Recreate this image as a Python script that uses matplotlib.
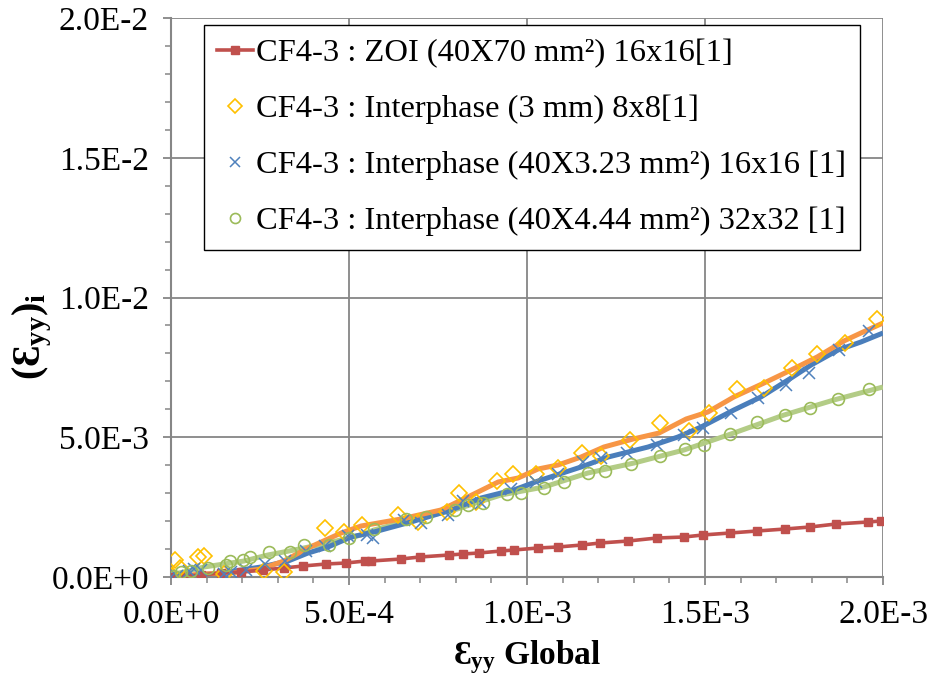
import numpy as np
import matplotlib
matplotlib.use("Agg")
import matplotlib.pyplot as plt
from matplotlib.ticker import MultipleLocator, FuncFormatter

plt.rcParams['font.family'] = ['Liberation Serif', 'DejaVu Serif']
plt.rcParams['mathtext.fontset'] = 'custom'
plt.rcParams['mathtext.rm'] = 'Liberation Serif'
plt.rcParams['mathtext.bf'] = 'Liberation Serif:bold'
plt.rcParams['mathtext.it'] = 'Liberation Serif:italic'

SCALE = 1e-3  # values below are in units of 1e-3

# CF4-3 : ZOI (40X70 mm²) 16x16[1]
zoi_x = [0.006, 0.042, 0.084, 0.140, 0.197, 0.258, 0.317, 0.371, 0.435, 0.492, 0.545, 0.562,
         0.646, 0.699, 0.781, 0.820, 0.865, 0.927, 0.963, 1.031, 1.087, 1.154, 1.205, 1.284,
         1.365, 1.441, 1.494, 1.570, 1.646, 1.725, 1.795, 1.868, 1.958, 1.994]
zoi_y = [0.000, 0.036, 0.072, 0.143, 0.179, 0.250, 0.322, 0.394, 0.465, 0.501, 0.572, 0.572,
         0.644, 0.716, 0.787, 0.823, 0.859, 0.930, 0.966, 1.038, 1.073, 1.145, 1.216, 1.288,
         1.395, 1.431, 1.503, 1.574, 1.646, 1.717, 1.789, 1.896, 1.968, 2.004]

# CF4-3 : Interphase (3 mm) 8x8[1]
int3_x = [0.003, 0.011, 0.025, 0.076, 0.093, 0.149, 0.261, 0.317, 0.433, 0.486, 0.537, 0.638,
          0.694, 0.775, 0.809, 0.857, 0.916, 0.961, 1.025, 1.087, 1.154, 1.208, 1.289, 1.374,
          1.455, 1.511, 1.590, 1.666, 1.744, 1.815, 1.893, 1.983]
int3_y = [0.036, 0.608, 0.322, 0.716, 0.751, 0.107, 0.215, 0.179, 1.753, 1.610, 1.860, 2.218,
          1.968, 2.326, 3.005, 2.683, 3.435, 3.685, 3.685, 3.900, 4.436, 4.329, 4.902, 5.510,
          5.224, 5.868, 6.726, 6.762, 7.478, 7.979, 8.372, 9.231]

# CF4-3 : Interphase (40X3.23 mm²) 16x16 [1]
int323_x = [0.000, 0.017, 0.051, 0.065, 0.084, 0.149, 0.169, 0.211, 0.264, 0.320, 0.379, 0.433,
            0.497, 0.551, 0.567, 0.654, 0.702, 0.778, 0.820, 0.871, 0.955, 1.025, 1.087, 1.157,
            1.208, 1.281, 1.365, 1.441, 1.494, 1.573, 1.649, 1.728, 1.792, 1.876, 1.961]
int323_y = [0.000, 0.036, 0.215, 0.286, 0.250, 0.107, 0.179, 0.250, 0.465, 0.572, 0.930, 1.109,
            1.467, 1.503, 1.395, 2.039, 1.932, 2.218, 2.719, 2.648, 3.148, 3.399, 3.685, 4.114,
            4.258, 4.436, 4.723, 5.081, 5.331, 5.868, 6.404, 6.869, 7.299, 8.122, 8.801]

# CF4-3 : Interphase (40X4.44 mm²) 32x32 [1]
int444_x = [0.008, 0.028, 0.056, 0.104, 0.154, 0.166, 0.202, 0.222, 0.275, 0.334, 0.374, 0.444,
            0.500, 0.570, 0.660, 0.716, 0.798, 0.834, 0.876, 0.944, 0.983, 1.048, 1.104, 1.171,
            1.219, 1.292, 1.374, 1.444, 1.497, 1.570, 1.646, 1.725, 1.795, 1.874, 1.961]
int444_y = [0.036, 0.179, 0.215, 0.322, 0.429, 0.572, 0.608, 0.716, 0.894, 0.894, 1.145, 1.145,
            1.395, 1.717, 2.075, 2.147, 2.397, 2.576, 2.648, 2.970, 3.005, 3.184, 3.399, 3.721,
            3.792, 4.043, 4.329, 4.580, 4.723, 5.116, 5.546, 5.796, 6.047, 6.369, 6.726]

# smoothed curves (no legend entries)
curve3_x = [0.000, 0.084, 0.169, 0.253, 0.317, 0.385, 0.478, 0.534, 0.646, 0.758, 0.851, 0.919,
            0.975, 1.031, 1.087, 1.152, 1.216, 1.298, 1.371, 1.447, 1.508, 1.581, 1.666, 1.742,
            1.815, 1.890, 1.938, 2.000]
curve3_y = [0.000, 0.107, 0.143, 0.286, 0.572, 1.038, 1.574, 1.825, 2.075, 2.397, 2.970, 3.399,
            3.542, 3.864, 4.007, 4.293, 4.651, 4.937, 5.152, 5.653, 5.903, 6.440, 6.941, 7.406,
            7.871, 8.444, 8.730, 9.088]
curve323_x = [0.000, 0.084, 0.160, 0.253, 0.329, 0.385, 0.441, 0.506, 0.570, 0.674, 0.787, 0.871,
              0.927, 0.963, 1.031, 1.152, 1.228, 1.340, 1.424, 1.489, 1.581, 1.657, 1.742, 1.798,
              1.874, 1.938, 2.000]
curve323_y = [0.000, 0.072, 0.179, 0.358, 0.572, 0.859, 1.073, 1.431, 1.610, 1.968, 2.397, 2.826,
              3.005, 3.113, 3.435, 3.936, 4.293, 4.651, 5.009, 5.367, 5.975, 6.440, 7.120, 7.585,
              8.122, 8.408, 8.730]
curve444_x = [0.000, 0.093, 0.205, 0.272, 0.346, 0.441, 0.534, 0.570, 0.674, 0.795, 0.927, 1.048,
              1.171, 1.301, 1.441, 1.581, 1.722, 1.862, 2.000]
curve444_y = [0.072, 0.358, 0.572, 0.787, 0.966, 1.216, 1.503, 1.682, 2.039, 2.397, 2.934, 3.220,
              3.721, 4.079, 4.544, 5.152, 5.796, 6.333, 6.798]

labels = ["CF4-3 : ZOI (40X70 mm²) 16x16[1]",
          "CF4-3 : Interphase (3 mm) 8x8[1]",
          "CF4-3 : Interphase (40X3.23 mm²) 16x16 [1]",
          "CF4-3 : Interphase (40X4.44 mm²) 32x32 [1]"]

def s(a):
    return np.asarray(a) * SCALE

fig = plt.figure(figsize=(9.32, 6.82), dpi=100)
ax = fig.add_axes([171/932, 1 - 577/682, 712/932, 559/682])

grid_c = '#868686'
# curves
ax.plot(s(curve444_x), s(curve444_y), color='#B3CC86', lw=3.6, zorder=3, solid_capstyle='butt')
ax.plot(s(curve323_x), s(curve323_y), color='#4A7EBB', lw=3.6, zorder=3, solid_capstyle='butt')
ax.plot(s(curve3_x), s(curve3_y), color='#F79646', lw=3.6, zorder=3, solid_capstyle='butt')

l1, = ax.plot(s(zoi_x), s(zoi_y), color='#C0504D', lw=2.6, marker='s', ms=6, zorder=4,
              label=labels[0])
l2, = ax.plot(s(int3_x), s(int3_y), ls='none', marker='D', ms=8, mfc='none', mec='#FFC000',
              mew=1.2, zorder=5, label=labels[1])
l3, = ax.plot(s(int323_x), s(int323_y), ls='none', marker='x', ms=8.5, mec='#4F81BD',
              mew=1.1, zorder=5, label=labels[2])
l4, = ax.plot(s(int444_x), s(int444_y), ls='none', marker='o', ms=8.5, mfc='none', mec='#9BBB59',
              mew=1.2, zorder=5, label=labels[3])

ax.set_xlim(0, 2.0e-3)
ax.set_ylim(0, 2.0e-2)
ax.xaxis.set_major_locator(MultipleLocator(5e-4))
ax.xaxis.set_minor_locator(MultipleLocator(1e-4))
ax.yaxis.set_major_locator(MultipleLocator(5e-3))
ax.yaxis.set_minor_locator(MultipleLocator(1e-3))

def fmt(v, pos):
    if abs(v) < 1e-12:
        return '0.0E+0'
    txt = f'{v:.1E}'
    mant, ex = txt.split('E')
    return f'{mant}E{int(ex):+d}'

ax.xaxis.set_major_formatter(FuncFormatter(fmt))
ax.yaxis.set_major_formatter(FuncFormatter(fmt))

ax.grid(True, which='major', color=grid_c, lw=1.3, zorder=1)
ax.set_axisbelow(True)
for sp in ['top', 'right']:
    ax.spines[sp].set_visible(False)
for sp in ['left', 'bottom']:
    ax.spines[sp].set_color(grid_c)
    ax.spines[sp].set_linewidth(1.5)

ax.tick_params(which='major', direction='out', length=6, width=1.3, color=grid_c,
               labelsize=24, pad=10, labelcolor='black')
ax.tick_params(which='minor', direction='out', length=4, width=1.1, color=grid_c)

ax.set_xlabel(r'Ɛ$_{\mathbf{yy}}$ Global', fontsize=24, fontweight='bold', labelpad=6)
ax.set_ylabel(r'(Ɛ$_{\mathbf{yy}}$)$_{\mathbf{i}}$', fontsize=29, fontweight='bold')
ax.yaxis.set_label_coords(-0.165, 0.43)

leg = ax.legend(handles=[l1, l2, l3, l4], loc='upper left', bbox_to_anchor=(0.046, 0.987),
                fontsize=23.4, frameon=True, fancybox=False, framealpha=1, edgecolor='black',
                handlelength=1.1, handletextpad=0.1, labelspacing=0.8, borderpad=0.42,
                borderaxespad=0, numpoints=1, markerscale=0.85)
leg.get_frame().set_linewidth(1.0)
leg.set_zorder(10)

fig.savefig('out.png', dpi=100)
